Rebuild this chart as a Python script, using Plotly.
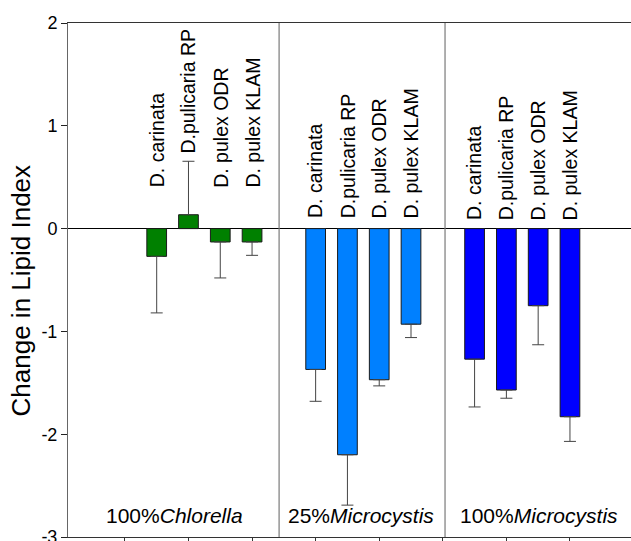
import plotly.graph_objects as go

# ---- data ----
species = ["D. carinata", "D.pulicaria RP", "D. pulex ODR", "D. pulex KLAM"]
groups = ["100%<i>Chlorella</i>", "25%<i>Microcystis</i>", "100%<i>Microcystis</i>"]
values_chlorella = [-0.27, 0.135, -0.13, -0.13]
errors_chlorella = [0.55, 0.52, 0.35, 0.13]
values_mc25 = [-1.37, -2.20, -1.47, -0.93]
errors_mc25 = [0.31, 0.49, 0.06, 0.13]
values_mc100 = [-1.27, -1.57, -0.75, -1.83]
errors_mc100 = [0.465, 0.08, 0.38, 0.24]
y_ticks = [-3, -2, -1, 0, 1, 2]
y_tick_text = ["-3", "-2", "-1", "0", "1", "2"]

# ---- layout helpers (positions / styles) ----
group_values = [values_chlorella, values_mc25, values_mc100]
group_errors = [errors_chlorella, errors_mc25, errors_mc100]
group_colors = ["#008000", "#0080FF", "#0000FF"]
label_base = [[0.38, 0.71, 0.38, 0.38], [0.08, 0.08, 0.08, 0.08], [0.06, 0.06, 0.06, 0.06]]
group_label_x = [1.55, 7.42, 13.03]
separators = [4.85, 10.07]
FONT = "Liberation Sans, Arial, sans-serif"

fig = go.Figure()
annotations = []
for g, (vals, errs, col) in enumerate(zip(group_values, group_errors, group_colors)):
    xs = [g * 5 + i + 1 for i in range(len(vals))]
    up = [e if v >= 0 else 0 for v, e in zip(vals, errs)]
    down = [e if v < 0 else 0 for v, e in zip(vals, errs)]
    fig.add_trace(go.Bar(
        x=xs, y=vals, width=0.62,
        marker=dict(color=col, line=dict(color="#1a1a1a", width=1)),
        error_y=dict(type="data", symmetric=False, array=up, arrayminus=down,
                     color="#444444", thickness=1, width=6),
        showlegend=False,
    ))
    for x, name, yb in zip(xs, species, label_base[g]):
        annotations.append(dict(x=x, y=yb, xref="x", yref="y", text=name,
                                textangle=-90, showarrow=False,
                                xanchor="center", yanchor="bottom",
                                font=dict(family=FONT, size=19.5, color="black")))
    annotations.append(dict(x=group_label_x[g], y=-2.79, xref="x", yref="y",
                            text=groups[g], showarrow=False,
                            xanchor="center", yanchor="middle",
                            font=dict(family=FONT, size=21, color="black")))

annotations.append(dict(x=-0.0832, y=0.48, xref="paper", yref="paper",
                        text="Change in Lipid Index", textangle=-90, showarrow=False,
                        xanchor="center", yanchor="middle",
                        font=dict(family=FONT, size=26, color="black")))

shapes = [dict(type="line", xref="x", yref="paper", x0=s, x1=s, y0=0, y1=1,
               line=dict(color="#7a7a7a", width=1.2)) for s in separators]

fig.update_layout(
    width=631, height=541,
    margin=dict(l=68, r=0, t=23, b=4, autoexpand=False),
    paper_bgcolor="white", plot_bgcolor="white",
    barmode="overlay",
    annotations=annotations, shapes=shapes,
    font=dict(family=FONT, color="black"),
    xaxis=dict(range=[-1.79, 15.92], tickvals=[0, 2, 4, 6, 8, 10, 12, 14],
               showticklabels=False, ticks="outside", ticklen=5, tickcolor="#333",
               showline=True, linecolor="#333", linewidth=1, mirror=True,
               showgrid=False, zeroline=False, automargin=False),
    yaxis=dict(range=[-3, 2], tickvals=y_ticks, ticktext=y_tick_text,
               ticks="outside", ticklen=6, tickcolor="#222",
               ticklabeloverflow="allow", automargin=False,
               tickfont=dict(family=FONT, size=18, color="black"),
               showline=True, linecolor="#666", linewidth=1,
               showgrid=False, zeroline=True, zerolinecolor="black", zerolinewidth=1),
)

fig.write_html("out.html")
